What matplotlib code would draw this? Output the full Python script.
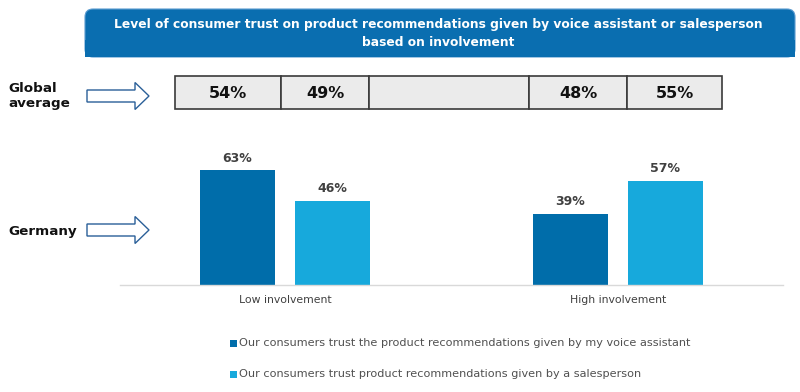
import matplotlib.pyplot as plt
from matplotlib.patches import FancyBboxPatch, Rectangle, FancyArrow

# dane
kategorie = ["Low involvement", "High involvement"]
asystent = [63, 39]
sprzedawca = [46, 57]
srednia_globalna = ["54%", "49%", "", "48%", "55%"]
serie = ["Our consumers trust the product recommendations given by my voice assistant",
         "Our consumers trust product recommendations given by a salesperson"]
tytul = ("Level of consumer trust on product recommendations given by voice assistant or salesperson\n"
         "based on involvement")

ciemny = "#006daa"
jasny = "#17a9dc"
szary_tekst = "#404040"

fig = plt.figure(figsize=(8, 3.92), dpi=100)

# warstwa na elementy opisowe, wspolrzedne w pikselach
tlo = fig.add_axes([0, 0, 1, 1])
tlo.set_xlim(0, 800)
tlo.set_ylim(392, 0)
tlo.axis("off")

# naglowek
tlo.add_patch(FancyBboxPatch((85, 9), 710, 48, boxstyle="round,pad=0,rounding_size=8",
                             facecolor="#0a6eb0", edgecolor="#5b9bd0", linewidth=0.8))
tlo.add_patch(Rectangle((85, 40), 710, 17, facecolor="#0a6eb0", edgecolor="none"))
tlo.text(438, 33, tytul, ha="center", va="center", color="white", fontsize=8.8,
         fontweight="bold", linespacing=1.5)

# srednia globalna - rzad komorek
granice = [175, 281, 369, 529, 627, 722]
for i, wartosc in enumerate(srednia_globalna):
    x0, x1 = granice[i], granice[i + 1]
    tlo.add_patch(Rectangle((x0, 76), x1 - x0, 33, facecolor="#ebebeb",
                            edgecolor="#3a3a3a", linewidth=1.2))
    tlo.text((x0 + x1) / 2, 93, wartosc, ha="center", va="center", fontsize=11.5,
             fontweight="bold", color="#111111")

tlo.text(8, 96, "Global\naverage", ha="left", va="center", fontsize=9.7,
         fontweight="bold", color="#111111", linespacing=1.15)
tlo.text(8, 231, "Germany", ha="left", va="center", fontsize=9.7,
         fontweight="bold", color="#111111")

for yc in (96, 230):
    tlo.add_patch(FancyArrow(87, yc, 62, 0, width=12, head_width=27, head_length=14,
                             length_includes_head=True, facecolor="white",
                             edgecolor="#2a5f98", linewidth=1.0))

# wykres slupkowy
ax = fig.add_axes([120 / 800, 107 / 392, 663 / 800, 136.5 / 392])
ax.patch.set_visible(False)
x = [0, 1]
szer = 0.225
przes = 0.1426
s1 = ax.bar([p - przes for p in x], asystent, szer, color=ciemny)
s2 = ax.bar([p + przes for p in x], sprzedawca, szer, color=jasny)
for slupki, wartosci in ((s1, asystent), (s2, sprzedawca)):
    for b, v in zip(slupki, wartosci):
        ax.text(b.get_x() + b.get_width() / 2, v + 3.2, f"{v}%", ha="center", va="bottom",
                fontsize=9, fontweight="bold", color=szary_tekst)

ax.set_xlim(-0.4955, 1.4955)
ax.set_ylim(0, 75)
ax.set_xticks(x)
ax.set_xticklabels(kategorie, fontsize=7.8, color=szary_tekst)
ax.tick_params(axis="x", length=0, pad=7)
ax.set_yticks([])
for bok in ("top", "right", "left"):
    ax.spines[bok].set_visible(False)
ax.spines["bottom"].set_color("#d9d9d9")
ax.spines["bottom"].set_linewidth(1.0)

# legenda
for i, (nazwa, kolor) in enumerate(zip(serie, [ciemny, jasny])):
    yl = 343 + i * 31
    tlo.add_patch(Rectangle((230, yl - 3.5), 7, 7, facecolor=kolor, edgecolor="none"))
    tlo.text(239, yl, nazwa, ha="left", va="center", fontsize=8.1, color="#505050")

fig.savefig("out.png", dpi=100)
